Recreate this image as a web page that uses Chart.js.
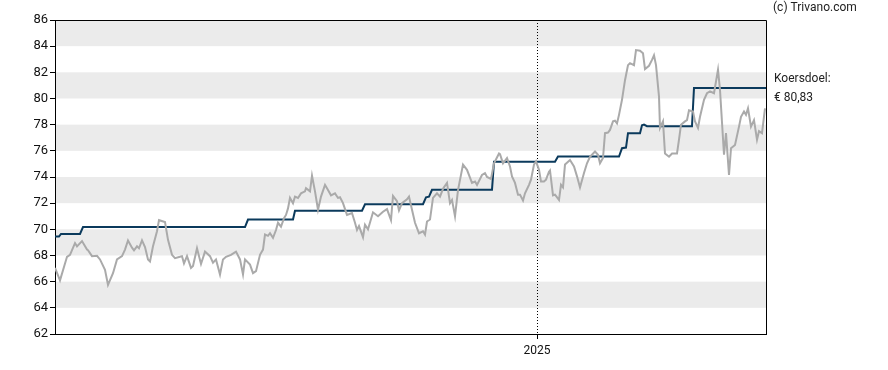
<!DOCTYPE html>
<html>
<head>
<meta charset="utf-8">
<script src="https://cdn.jsdelivr.net/npm/chart.js@4/dist/chart.umd.min.js"></script>
<style>
  html, body { margin: 0; padding: 0; background: #fff; }
  #wrap { position: relative; width: 888px; height: 370px; }
</style>
</head>
<body>
<div id="wrap"><canvas id="koersChart" width="888" height="370"></canvas></div>
<script>
// koers (grijs): dag sinds start, slotkoers
var koersDagen = [0,5,12,15,20,22,27,32,33,37,42,45,50,53,58,62,67,70,73,77,79,82,84,87,90,93,95,98,102,104,110,113,117,120,125,127,129,132,136,138,142,146,
  150,155,158,161,165,168,171,176,181,185,188,190,195,198,201,205,208,210,213,215,218,221,223,226,229,231,233,235,238,240,243,246,250,251,255,257,260,263,266,270,273,276,280,283,285,
  288,292,297,300,302,304,308,310,313,318,323,328,332,336,338,342,344,347,352,354,357,360,364,368,370,372,375,378,382,385,388,392,395,397,400,403,408,412,417,420,422,427,
  430,432,436,439,444,445,448,452,455,457,460,463,465,468,470,474,476,479,481,484,486,489,491,494,495,498,500,504,506,508,510,515,519,522,525,529,532,535,540,543,545,548,550,553,555,558,560,562,564,567,
  570,573,575,579,581,585,588,590,594,597,599,601,604,605,608,610,614,617,622,624,626,630,632,634,638,640,643,645,649,652,655,659,661,663,665,669,671,674,676,680,684,686,689,691,693,696,699,702,704,707,710];
var koersWaarden = [67.05,66.1,67.9,68.05,68.95,68.7,69.1,68.45,68.4,67.95,67.98,67.7,66.9,65.75,66.65,67.7,67.95,68.45,69.15,68.6,68.4,68.7,68.55,69.15,68.65,67.7,67.55,68.7,69.85,70.7,70.55,69.2,68.05,67.8,67.9,67.95,67.4,67.95,67.05,67.2,68.55,67.35,
  68.3,67.95,67.45,67.7,66.55,67.7,67.9,68.05,68.3,67.7,66.55,67.7,67.3,66.65,66.8,68.05,68.45,69.6,69.5,69.7,69.35,69.95,70.5,70.2,70.85,71.1,71.6,72.4,72.0,72.5,72.4,72.75,72.9,73.15,72.9,74.1,72.9,71.5,72.5,73.4,73.0,72.6,72.75,72.4,72.45,
  72.0,71.1,71.25,70.5,69.95,70.25,69.4,70.35,70.0,71.3,71.0,71.35,71.55,70.7,72.55,72.15,71.45,72.0,72.3,72.5,71.5,70.5,69.7,69.85,69.6,70.6,70.75,72.4,72.75,72.5,73.1,73.55,72.0,72.25,71.0,73.0,74.95,74.55,73.55,73.65,73.4,74.15,
  74.3,74.0,73.85,75.05,75.8,75.75,75.05,75.45,74.8,74.05,73.55,72.65,72.65,72.2,72.75,73.4,73.8,74.95,75.2,74.55,73.65,73.65,73.8,74.4,74.5,72.6,72.65,72.25,73.4,73.2,74.95,75.3,74.8,74.05,73.2,74.3,75.05,75.55,75.95,75.7,75.05,75.45,77.35,77.4,77.6,78.25,78.3,78.1,78.75,79.9,
  81.4,82.55,82.7,82.55,83.7,83.65,83.45,82.25,82.5,82.95,83.3,82.55,80.15,77.75,78.25,75.8,75.55,75.8,75.8,76.85,78.0,78.25,78.35,79.1,79.0,78.25,77.75,78.6,79.9,80.4,80.55,80.4,81.3,82.2,80.65,75.7,77.35,74.15,76.2,76.45,77.85,78.6,79.0,78.75,79.25,77.85,78.35,76.85,77.5,77.35,79.25];

// koersdoel (blauw): dag sinds start, doel
var doelDagen = [0,4,6,25,28,190,193,238,240,307,310,368,371,374,377,437,439,500,503,564,567,571,573,585,587,589,592,637,639,711];
var doelWaarden = [69.45,69.45,69.65,69.65,70.17,70.17,70.75,70.75,71.42,71.42,71.92,71.92,72.45,72.5,73.02,73.02,75.16,75.16,75.56,75.56,76.2,76.25,77.35,77.35,77.95,78.0,77.88,77.88,80.8,80.8];

var laatsteDoel = '€ 80,83';
var jaarLabel = '2025';
var jaarDag = 482;
var dagMax = 711;
var yMin = 62, yMax = 86, yStap = 2;
var banden = [[64,66],[68,70],[72,74],[76,78],[80,82],[84,86]];

function punten(xs, ys) {
  var res = [];
  for (var i = 0; i < xs.length; i++) res.push({x: xs[i], y: ys[i]});
  return res;
}

// grijze banden onder de rasterlijn tekenen
var bandPlugin = {
  id: 'banden',
  beforeDraw: function(chart) {
    var ctx = chart.ctx, area = chart.chartArea, y = chart.scales.y;
    ctx.save();
    ctx.fillStyle = '#ebebeb';
    banden.forEach(function(b) {
      var top = y.getPixelForValue(b[1]);
      var bot = y.getPixelForValue(b[0]);
      ctx.fillRect(area.left, top, area.right - area.left, bot - top);
    });
    ctx.restore();
  }
};

var kaderPlugin = {
  id: 'kader',
  afterDraw: function(chart) {
    var ctx = chart.ctx, area = chart.chartArea;
    ctx.save();
    ctx.strokeStyle = '#000';
    ctx.lineWidth = 1;
    ctx.beginPath();
    ctx.moveTo(Math.round(area.left) + 0.5, Math.round(area.top) + 0.5);
    ctx.lineTo(Math.round(area.right) + 0.5, Math.round(area.top) + 0.5);
    ctx.lineTo(Math.round(area.right) + 0.5, Math.round(area.bottom));
    ctx.stroke();
    // teksten rechts
    ctx.fillStyle = '#222';
    ctx.font = '12px Roboto';
    ctx.textBaseline = 'middle';
    ctx.textAlign = 'left';
    ctx.fillText('(c) Trivano.com', area.right + 7, 8);
    var yd = chart.scales.y.getPixelForValue(doelWaarden[doelWaarden.length - 1]);
    ctx.fillText('Koersdoel:', area.right + 8, yd - 9);
    ctx.fillText(laatsteDoel, area.right + 8, yd + 10);
    ctx.restore();
  }
};

var ctx = document.getElementById('koersChart').getContext('2d');
var koersChart = new Chart(ctx, {
  type: 'line',
  data: {
    datasets: [{
      label: 'Koers',
      data: punten(koersDagen, koersWaarden),
      borderColor: '#aaaaaa',
      borderWidth: 2,
      pointRadius: 0,
      tension: 0
    }, {
      label: 'Koersdoel',
      data: punten(doelDagen, doelWaarden),
      borderColor: '#0b3a5c',
      borderWidth: 2,
      pointRadius: 0,
      tension: 0
    }]
  },
  options: {
    responsive: false,
    animation: false,
    layout: { padding: { top: 20, right: 122, bottom: 0, left: 0 } },
    plugins: { legend: { display: false }, tooltip: { enabled: false } },
    scales: {
      x: {
        type: 'linear',
        min: 0,
        max: dagMax,
        afterBuildTicks: function(axis) { axis.ticks = [{ value: jaarDag }]; },
        afterFit: function(axis) { axis.height = 36; },
        ticks: {
          callback: function() { return jaarLabel; },
          color: '#111',
          font: { family: 'Roboto', size: 12 },
          padding: 5,
          maxRotation: 0
        },
        grid: { color: '#000', lineWidth: 1, tickLength: 5, tickBorderDash: [] },
        border: { color: '#000', width: 1, dash: [1, 2] }
      },
      y: {
        min: yMin,
        max: yMax,
        ticks: {
          stepSize: yStap,
          color: '#111',
          font: { family: 'Roboto', size: 13 },
          padding: 2
        },
        afterFit: function(axis) { axis.width = 55; },
        grid: { drawOnChartArea: false, tickLength: 5, color: '#000' },
        border: { color: '#000', width: 1 }
      }
    }
  },
  plugins: [bandPlugin, kaderPlugin]
});
</script>
</body>
</html>
